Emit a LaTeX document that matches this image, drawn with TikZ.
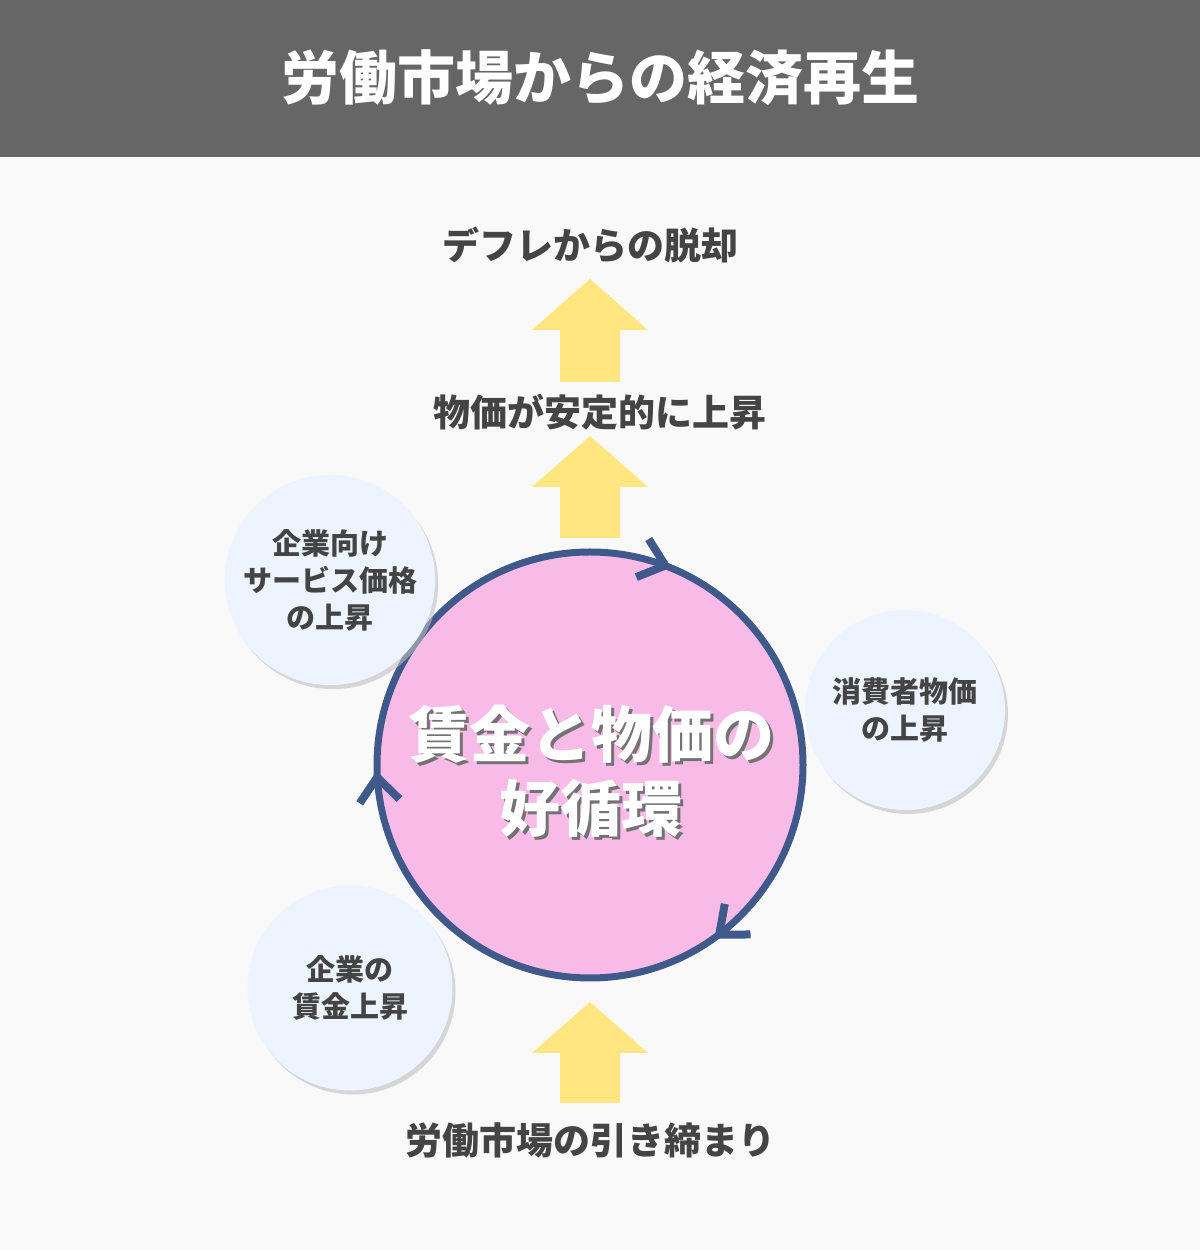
\documentclass[tikz,border=0pt]{standalone}
\usepackage{fontspec}
\setmainfont{Noto Sans CJK JP}
\usetikzlibrary{shadows,calc}
\definecolor{hdr}{HTML}{666666}
\definecolor{bg}{HTML}{F9F9F9}
\definecolor{txt}{HTML}{444444}
\definecolor{yel}{HTML}{FFE680}
\definecolor{pinkc}{HTML}{F8BBE8}
\definecolor{navy}{HTML}{3F5A8A}
\definecolor{pale}{HTML}{EEF4FF}
\tikzset{
 lbl/.style={text=txt,font=\fontsize{37}{44}\selectfont\bfseries},
 small/.style={circle,fill=pale,minimum size=#1,align=center,text=txt,font=\fontsize{29}{37}\selectfont\bfseries,drop shadow={shadow xshift=3pt,shadow yshift=-4pt,fill=black!25,opacity=0.6}},
 chev/.style={draw=navy,line width=8pt,miter limit=10},
 ctr/.style={align=center,font=\fontsize{61}{74}\selectfont\bfseries},
}
\newcommand{\uparr}[2]{\fill[yel] (532,#1) -- (590,#1+51) -- (648,#1) -- (620,#1) -- (620,#2) -- (560,#2) -- (560,#1) -- cycle;}
\begin{document}
\begin{tikzpicture}[x=1pt,y=1pt]
\useasboundingbox (0,0) rectangle (1200,1250);
\fill[bg] (0,0) rectangle (1200,1250);
\fill[hdr] (0,1093) rectangle (1200,1250);
\node[text=white,font=\fontsize{58}{64}\selectfont\bfseries] (title) at (600,1172) {労働市場からの経済再生};
\node[lbl] (t1) at (590,1005) {デフレからの脱却};
\uparr{920}{868}
\node[lbl] (t2) at (600,838) {物価が安定的に上昇};
\uparr{763}{712}
\uparr{197}{147}
\node[lbl] (t3) at (590,110) {労働市場の引き締まり};
\node[circle,fill=pinkc,draw=navy,line width=7pt,minimum size=426pt] (big) at (590,485) {};
\foreach \a/\r in {72/-18,186/96,-50/-140}{
 \draw[chev,shift={($(590,485)+(\a:213)$)},rotate=\r] (-14,20) -- (10,0) -- (-14,-20);
}
\node[ctr,text=black!55] (cs) at (594,476) {賃金と物価の\\好循環};
\node[ctr,text=white] (center) at (591,479) {賃金と物価の\\好循環};
\node[small=200pt] (c1) at (330,670) {企業向け\\サービス価格\\の上昇};
\node[small=200pt] (c2) at (905,540) {消費者物価\\の上昇};
\node[small=205pt] (c3) at (350,262) {企業の\\賃金上昇};
\end{tikzpicture}
\end{document}
